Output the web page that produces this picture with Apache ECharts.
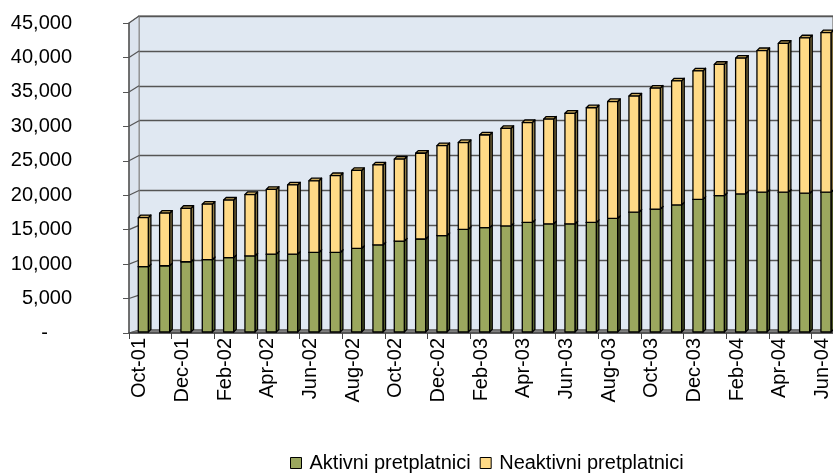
<!DOCTYPE html>
<html>
<head>
<meta charset="utf-8">
<script src="https://cdn.jsdelivr.net/npm/echarts@6/dist/echarts.min.js"></script>
<style>
  html, body { margin: 0; padding: 0; background: #fff; }
  #chart { width: 833px; height: 475px; }
</style>
</head>
<body>
<div id="chart"></div>
<script>
// Monthly subscriber counts, Oct 2001 – Jun 2004
const categories = [
  'Oct-01','Nov-01','Dec-01','Jan-02','Feb-02','Mar-02','Apr-02','May-02','Jun-02',
  'Jul-02','Aug-02','Sep-02','Oct-02','Nov-02','Dec-02','Jan-03','Feb-03','Mar-03',
  'Apr-03','May-03','Jun-03','Jul-03','Aug-03','Sep-03','Oct-03','Nov-03','Dec-03',
  'Jan-04','Feb-04','Mar-04','Apr-04','May-04','Jun-04'
];
const aktivni = [
  9480, 9620, 10200, 10500, 10800, 11050, 11300, 11300, 11550, 11550, 12150,
  12650, 13200, 13500, 14000, 14900, 15150, 15400, 15900, 15700, 15700, 15900,
  16500, 17400, 17850, 18450, 19250, 19800, 20050, 20300, 20300, 20150, 20300
];
const neaktivni = [
  7120, 7630, 7750, 8050, 8350, 8900, 9400, 10050, 10400, 11150, 11300,
  11600, 11900, 12450, 13050, 12600, 13450, 14150, 14500, 15200, 16050, 16650,
  16950, 16850, 17550, 18000, 18650, 19050, 19700, 20550, 21600, 22550, 23150
];
const yTicks = { min: 0, max: 45000, step: 5000 };
const seriesNames = ['Aktivni pretplatnici', 'Neaktivni pretplatnici'];

const FONT = '"Liberation Sans", Arial, sans-serif';
const FS = 20;
const colors = {
  green: { front: '#9BA75E', side: '#56602B', top: '#7C8740' },
  yellow: { front: '#FFDA86', side: '#8E7B45', top: '#C9A85C' },
  wall: '#E0E8F2',
  grid: '#555555',
  floor: '#808080'
};

// Bars drawn as small 3D prisms: front face, right side and top cap
function prism(c) {
  return function (params, api) {
    const i = api.value(0);
    const lo = api.coord([i, api.value(1)]);
    const hi = api.coord([i, api.value(2)]);
    const band = api.size([1, 0])[0];
    const w = band * 0.47;
    const x0 = lo[0] - w / 2 + band * 0.17;
    const yb = lo[1] - 1, yt = hi[1] - 1;
    const dx = 2.6, dy = -2.6;
    const stroke = { stroke: '#000', lineWidth: 1.3, lineJoin: 'round' };
    return {
      type: 'group',
      children: [
        { type: 'polygon', shape: { points: [[x0 + w, yt], [x0 + w + dx, yt + dy], [x0 + w + dx, yb + dy], [x0 + w, yb]] },
          style: Object.assign({ fill: c.side }, stroke) },
        { type: 'polygon', shape: { points: [[x0, yt], [x0 + dx, yt + dy], [x0 + w + dx, yt + dy], [x0 + w, yt]] },
          style: Object.assign({ fill: c.top }, stroke) },
        { type: 'rect', shape: { x: x0, y: yt, width: w, height: yb - yt },
          style: Object.assign({ fill: c.front }, stroke) }
      ]
    };
  };
}

const greenData = categories.map((_, i) => [i, 0, aktivni[i]]);
const yellowData = categories.map((_, i) => [i, aktivni[i], aktivni[i] + neaktivni[i]]);

const chart = echarts.init(document.getElementById('chart'), null, { renderer: 'canvas' });

const option = {
  animation: false,
  backgroundColor: '#fff',
  textStyle: { fontFamily: FONT },
  grid: [
    { left: 129, top: 23, width: 706, height: 310, show: false },
    { left: 139, top: 16, width: 706, height: 314, show: true,
      backgroundColor: colors.wall, borderColor: '#8a8a8a', borderWidth: 1.5 }
  ],
  xAxis: [
    {
      type: 'category', gridIndex: 0, data: categories, boundaryGap: true,
      axisLine: { show: true, lineStyle: { color: '#444', width: 1.5 } },
      axisTick: { show: true, interval: 1, length: 6, lineStyle: { color: '#444' } },
      axisLabel: { interval: 1, rotate: 90, margin: 5, color: '#000', fontSize: FS, fontFamily: FONT },
      z: 5
    },
    { type: 'category', gridIndex: 1, data: categories, show: false }
  ],
  yAxis: [
    {
      type: 'value', gridIndex: 0, min: yTicks.min, max: yTicks.max, interval: yTicks.step,
      axisLine: { show: true, lineStyle: { color: '#555', width: 1.5 } },
      axisTick: { show: true, length: 6, lineStyle: { color: '#555' } },
      splitLine: { show: false },
      axisLabel: {
        margin: 57, color: '#000', fontSize: FS, fontFamily: FONT,
        formatter: v => v === 0 ? '{z|-}' : v.toLocaleString('en-US'),
        rich: { z: { fontSize: FS, fontFamily: FONT, color: '#000', padding: [0, 24, 0, 0] } }
      },
      z: 5
    },
    {
      type: 'value', gridIndex: 1, min: yTicks.min, max: yTicks.max, interval: yTicks.step,
      axisLine: { show: false }, axisTick: { show: false }, axisLabel: { show: false },
      splitLine: { show: true, lineStyle: { color: colors.grid, width: 1.3 } }
    }
  ],
  legend: {
    left: 290, top: 453, padding: 0,
    itemWidth: 11, itemHeight: 11, itemGap: 9,
    textStyle: { fontSize: FS, color: '#000', fontFamily: FONT, padding: [0, 0, 0, 3] },
    data: [
      { name: seriesNames[0], icon: 'rect', itemStyle: { color: colors.green.front, borderColor: '#000', borderWidth: 1 } },
      { name: seriesNames[1], icon: 'rect', itemStyle: { color: colors.yellow.front, borderColor: '#000', borderWidth: 1 } }
    ]
  },
  series: [
    {
      name: seriesNames[0], type: 'custom', xAxisIndex: 0, yAxisIndex: 0, z: 10,
      itemStyle: { color: colors.green.front },
      encode: { x: 0, y: [1, 2] },
      renderItem: prism(colors.green), data: greenData
    },
    {
      name: seriesNames[1], type: 'custom', xAxisIndex: 0, yAxisIndex: 0, z: 11,
      itemStyle: { color: colors.yellow.front },
      encode: { x: 0, y: [1, 2] },
      renderItem: prism(colors.yellow), data: yellowData
    }
  ]
};
chart.setOption(option);

// Side wall and floor joining the front axes to the back wall
(function addWalls() {
  const fx = v => chart.convertToPixel({ xAxisIndex: 0 }, v);
  const bx = v => chart.convertToPixel({ xAxisIndex: 1 }, v);
  const fy = v => chart.convertToPixel({ yAxisIndex: 0 }, v);
  const by = v => chart.convertToPixel({ yAxisIndex: 1 }, v);
  const halfF = (fx(1) - fx(0)) / 2, halfB = (bx(1) - bx(0)) / 2;
  const n = categories.length;
  const fL = fx(0) - halfF, fR = fx(n - 1) + halfF;
  const bL = bx(0) - halfB, bR = bx(n - 1) + halfB;
  const els = [];
  els.push({
    type: 'polygon', z: 1,
    shape: { points: [[fL, fy(yTicks.max)], [bL, by(yTicks.max)], [bL, by(0)], [fL, fy(0)]] },
    style: { fill: '#DCE4EE', stroke: '#8a8a8a', lineWidth: 1 }
  });
  for (let v = yTicks.min + yTicks.step; v <= yTicks.max; v += yTicks.step) {
    els.push({
      type: 'line', z: 2,
      shape: { x1: fL, y1: fy(v), x2: bL, y2: by(v) },
      style: { stroke: colors.grid, lineWidth: 1.2 }
    });
  }
  els.push({
    type: 'polygon', z: 2,
    shape: { points: [[fL, fy(0)], [bL, by(0)], [bR, by(0)], [fR, fy(0)]] },
    style: { fill: colors.floor, stroke: '#606060', lineWidth: 1 }
  });
  chart.setOption({ graphic: { elements: els } });
})();
</script>
</body>
</html>
